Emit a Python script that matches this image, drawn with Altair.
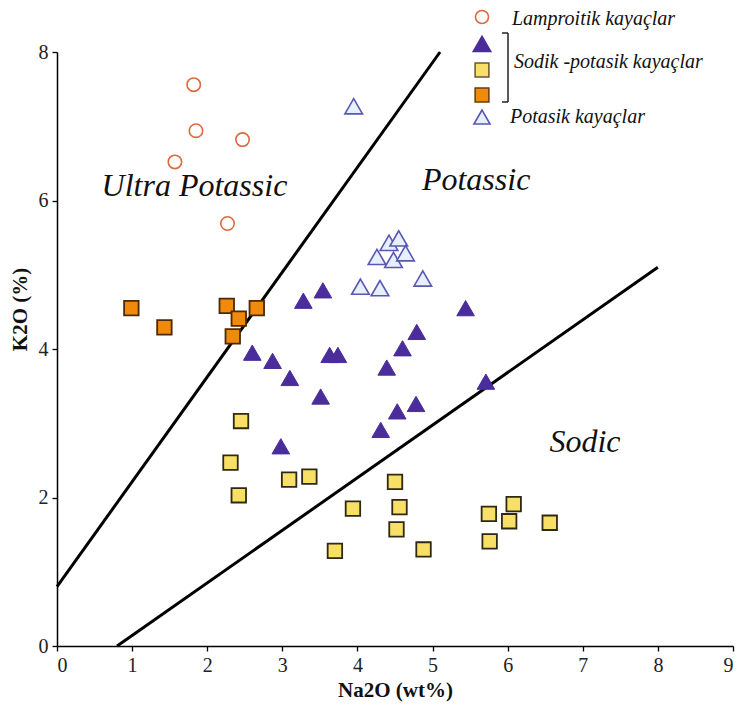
import altair as alt
import pandas as pd

# ---------------- data ----------------
lamp_x = [1.82, 1.85, 2.47, 1.57, 2.27]
lamp_y = [7.56, 6.94, 6.82, 6.52, 5.69]

sp_tri_x = [3.28, 3.54, 5.44, 4.79, 4.60, 2.60, 3.63, 3.74, 2.87, 4.39, 3.10, 5.71, 3.51, 4.78, 4.53, 4.31, 2.98]
sp_tri_y = [4.65, 4.79, 4.55, 4.23, 4.01, 3.95, 3.92, 3.92, 3.84, 3.75, 3.61, 3.56, 3.36, 3.26, 3.16, 2.91, 2.69]

sp_yel_x = [2.45, 2.31, 2.42, 3.09, 3.36, 3.94, 4.50, 4.56, 4.52, 3.70, 4.88, 5.75, 6.08, 6.02, 5.76, 6.56]
sp_yel_y = [3.03, 2.47, 2.03, 2.24, 2.28, 1.85, 2.21, 1.87, 1.57, 1.28, 1.30, 1.78, 1.91, 1.68, 1.41, 1.66]

sp_org_x = [0.99, 1.43, 2.26, 2.42, 2.66, 2.34]
sp_org_y = [4.55, 4.29, 4.58, 4.41, 4.55, 4.17]

pot_x = [3.95, 4.42, 4.55, 4.26, 4.48, 4.64, 4.04, 4.30, 4.87]
pot_y = [7.27, 5.43, 5.49, 5.24, 5.20, 5.29, 4.84, 4.82, 4.95]

# boundary lines (start / end points)
line_x1 = [0.0, 0.8]
line_y1 = [0.8, 0.0]
line_x2 = [5.1, 8.0]
line_y2 = [8.0, 5.1]

field_labels = ["Ultra Potassic", "Potassic", "Sodic"]
field_x = [1.83, 5.58, 7.03]
field_y = [6.19, 6.28, 2.75]

legend_labels = ["Lamproitik kayaçlar", "Sodik -potasik kayaçlar", "Potasik kayaçlar"]

x_ticks = list(range(0, 10))
y_ticks = [0, 2, 4, 6, 8]

SERIF = "Liberation Serif"

xs = alt.Scale(domain=[0, 9], nice=False)
ys = alt.Scale(domain=[0, 8], nice=False)

x_axis = alt.Axis(values=x_ticks, title="Na2O (wt%)", titleY=44, titleBaseline="middle",
                  tickSize=5, labelPadding=4)
y_axis = alt.Axis(values=y_ticks, title="K2O (%)", titleX=-37, titleY=257,
                  titleBaseline="middle", titleAlign="center", titleAngle=270,
                  tickSize=5, labelPadding=4)


def pts(x, y):
    return pd.DataFrame({"x": x, "y": y})


def enc(ch):
    return ch.encode(
        x=alt.X("x:Q", scale=xs, axis=x_axis),
        y=alt.Y("y:Q", scale=ys, axis=y_axis),
    )


lines_df = pd.DataFrame({"x": line_x1, "y": line_y1, "x2": line_x2, "y2": line_y2})
lines = alt.Chart(lines_df).mark_rule(color="black", strokeWidth=3).encode(
    x=alt.X("x:Q", scale=xs, axis=x_axis),
    y=alt.Y("y:Q", scale=ys, axis=y_axis),
    x2="x2:Q", y2="y2:Q",
)

lamp = enc(alt.Chart(pts(lamp_x, lamp_y)).mark_point(
    shape="circle", size=180, filled=False, stroke="#e0683f", strokeWidth=1.6, opacity=1))
yel = enc(alt.Chart(pts(sp_yel_x, sp_yel_y)).mark_point(
    shape="square", size=210, filled=True, fill="#f8df66", stroke="#2e2815", strokeWidth=1.8, opacity=1, fillOpacity=1))
org = enc(alt.Chart(pts(sp_org_x, sp_org_y)).mark_point(
    shape="square", size=210, filled=True, fill="#f08a0c", stroke="#4a2a0a", strokeWidth=1.8, opacity=1, fillOpacity=1))
tri = enc(alt.Chart(pts(sp_tri_x, sp_tri_y)).mark_point(
    shape="triangle-up", size=310, filled=True, fill="#4a2d9b", stroke="#4a2d9b", strokeWidth=1, opacity=1, fillOpacity=1))
pot = enc(alt.Chart(pts(pot_x, pot_y)).mark_point(
    shape="triangle-up", size=310, filled=True, fill="#e6f0fb", stroke="#5a56b4", strokeWidth=1.6, opacity=1, fillOpacity=1))

fields_df = pd.DataFrame({"x": field_x, "y": field_y, "t": field_labels})
fields = alt.Chart(fields_df).mark_text(
    font=SERIF, fontStyle="italic", fontSize=32, color="#111", align="center", baseline="middle"
).encode(
    x=alt.X("x:Q", scale=xs, axis=x_axis),
    y=alt.Y("y:Q", scale=ys, axis=y_axis),
    text="t:N",
)

one = pd.DataFrame({"k": [0]})


def leg_sym(px, py, **kw):
    return alt.Chart(one).mark_point(opacity=1, **kw).encode(x=alt.value(px), y=alt.value(py))


def leg_txt(px, py, label):
    return alt.Chart(pd.DataFrame({"t": [label]})).mark_text(
        font=SERIF, fontStyle="italic", fontSize=20, color="#111", align="left", baseline="middle"
    ).encode(x=alt.value(px), y=alt.value(py), text="t:N")


legend_layers = [
    leg_sym(425, -35, shape="circle", size=170, filled=False, stroke="#e0683f", strokeWidth=1.6),
    leg_sym(425, -8, shape="triangle-up", size=280, filled=True, fill="#4a2d9b", stroke="#4a2d9b", fillOpacity=1),
    leg_sym(425, 18, shape="square", size=190, filled=True, fill="#f8df66", stroke="#6a5530", strokeWidth=1.5, fillOpacity=1),
    leg_sym(425, 43, shape="square", size=190, filled=True, fill="#f08a0c", stroke="#6a3a10", strokeWidth=1.5, fillOpacity=1),
    leg_sym(425, 65, shape="triangle-up", size=260, filled=True, fill="#e6f0fb", stroke="#5a56b4", strokeWidth=1.6, fillOpacity=1),
    leg_txt(455, -33, legend_labels[0]),
    leg_txt(457, 10, legend_labels[1]),
    leg_txt(453, 65, legend_labels[2]),
    alt.Chart(one).mark_rule(color="#222", strokeWidth=1.5).encode(
        x=alt.value(451), x2=alt.value(451), y=alt.value(-19), y2=alt.value(50)),
    alt.Chart(one).mark_rule(color="#222", strokeWidth=1.5).encode(
        x=alt.value(445), x2=alt.value(451), y=alt.value(-19), y2=alt.value(-19)),
    alt.Chart(one).mark_rule(color="#222", strokeWidth=1.5).encode(
        x=alt.value(445), x2=alt.value(451), y=alt.value(50), y2=alt.value(50)),
]

chart = alt.layer(lines, lamp, yel, org, tri, pot, fields, *legend_layers).properties(
    width=676, height=594,
    autosize=alt.AutoSizeParams(type="none"),
    padding={"left": 49, "top": 44, "right": 4, "bottom": 60},
).configure_view(stroke=None).configure_axis(
    grid=False,
    domainColor="black", domainWidth=1.5,
    tickColor="black", tickWidth=1.3,
    labelFont=SERIF, labelFontSize=20, labelColor="#222",
    titleFont=SERIF, titleFontSize=21, titleFontWeight="bold", titleColor="#111",
)

chart.save("out.html", embed_options={"renderer": "svg", "actions": False})
